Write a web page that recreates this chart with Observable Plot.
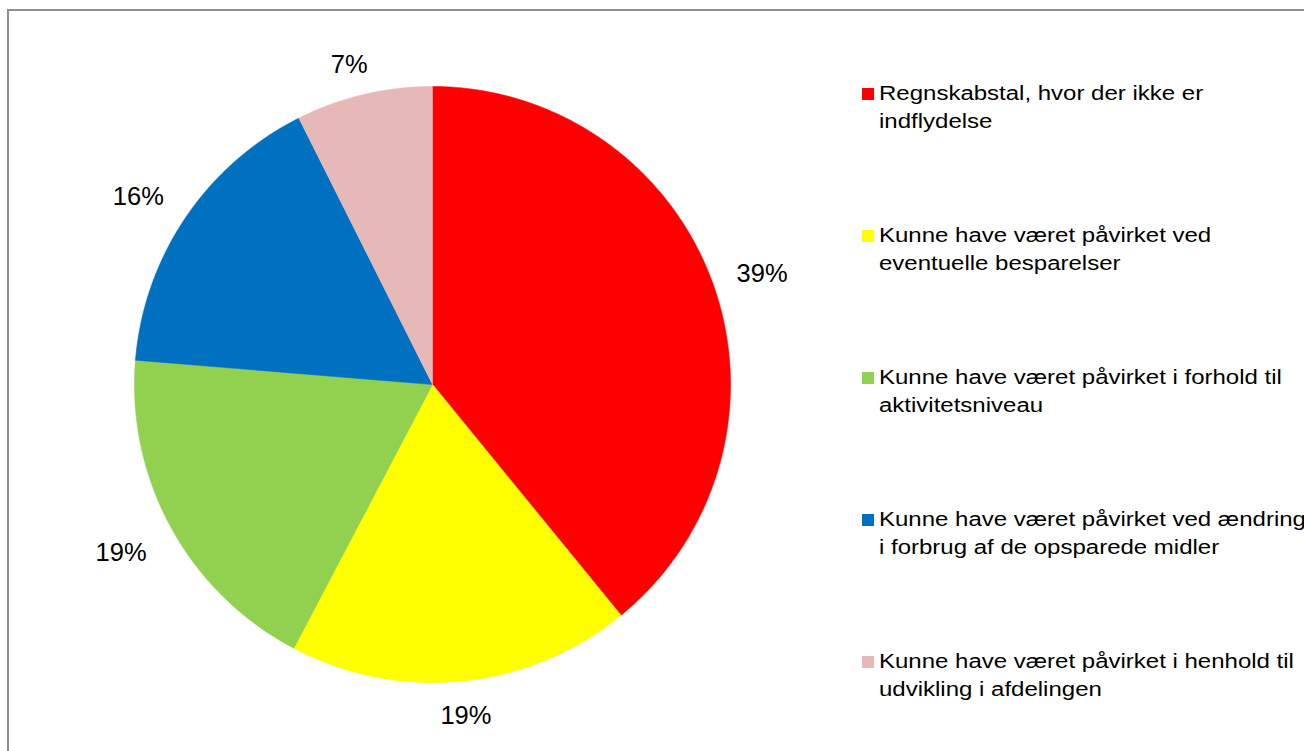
<!DOCTYPE html>
<html>
<head>
<meta charset="utf-8">
<script src="https://cdn.jsdelivr.net/npm/d3@7"></script>
<script src="https://cdn.jsdelivr.net/npm/@observablehq/plot@0.6"></script>
<style>
  html, body { margin: 0; padding: 0; background: #fff; overflow: hidden; width: 1304px; height: 751px; }
  body { position: relative; font-family: "Liberation Sans", Arial, sans-serif; }
  #frame { position: absolute; left: 7px; top: 9px; width: 1400px; height: 800px; border: 2px solid #8e8e8e; box-sizing: border-box; }
  #chart { position: absolute; left: 0; top: 0; width: 860px; height: 751px; }
  #legend { position: absolute; left: 0; top: 0; }
  .entry { position: absolute; left: 862px; white-space: nowrap; }
  .sw { position: absolute; left: 0; width: 12px; height: 12px; }
  .lbl { position: absolute; left: 17px; top: 0; font-size: 20px; line-height: 28px; color: #000;
         transform: scaleX(1.2); transform-origin: 0 0; }
</style>
</head>
<body>
<div id="frame"></div>
<div id="chart"></div>
<div id="legend"></div>
<script>
// ---- data ----
const categories = [
  "Regnskabstal, hvor der ikke er indflydelse",
  "Kunne have været påvirket ved eventuelle besparelser",
  "Kunne have været påvirket i forhold til aktivitetsniveau",
  "Kunne have været påvirket ved ændring i forbrug af de opsparede midler",
  "Kunne have været påvirket i henhold til udvikling i afdelingen"
];
const legendLines = [
  ["Regnskabstal, hvor der ikke er", "indflydelse"],
  ["Kunne have været påvirket ved", "eventuelle besparelser"],
  ["Kunne have været påvirket i forhold til", "aktivitetsniveau"],
  ["Kunne have været påvirket ved ændring", "i forbrug af de opsparede midler"],
  ["Kunne have været påvirket i henhold til", "udvikling i afdelingen"]
];
const values = [39.1, 18.6, 18.6, 16.3, 7.4];
const colors = ["#FF0000", "#FFFF00", "#92D050", "#0070C0", "#E6B9B8"];

// ---- pie geometry via d3.pie ----
const table = categories.map((c, i) => ({cat: c, value: values[i]}));
const total = d3.sum(values);
const arcs = d3.pie().sort(null).value(d => d.value).startAngle(0).endAngle(2 * Math.PI)(table);

const slicePts = [];
arcs.forEach(a => {
  const cat = a.data.cat;
  slicePts.push({cat, x: 0, y: 0});
  const n = Math.max(2, Math.ceil((a.endAngle - a.startAngle) / (Math.PI / 360)));
  for (let k = 0; k <= n; k++) {
    const t = a.startAngle + (a.endAngle - a.startAngle) * k / n;
    slicePts.push({cat, x: Math.sin(t), y: Math.cos(t)});
  }
  slicePts.push({cat, x: 0, y: 0});
});

const R = 298; // pixels per data unit (pie radius)
const labelPts = arcs.map(a => {
  const m = (a.startAngle + a.endAngle) / 2;
  const s = Math.sin(m), c = Math.cos(m);
  const k = 1.111 + 0.067 * Math.abs(s);
  return {
    x: k * s - (s < 0 ? 6 / R : 0),
    y: k * c - (c > 0 ? 7 / R : 0),
    text: Math.round(a.data.value / total * 100) + "%"
  };
});

const W = 860, H = 751;
const plot = Plot.plot({
  width: W,
  height: H,
  marginLeft: 134,
  marginRight: W - 134 - 2 * R,
  marginTop: 86,
  marginBottom: H - 86 - 2 * R,
  x: {domain: [-1, 1], axis: null},
  y: {domain: [-1, 1], axis: null},
  color: {domain: categories, range: colors},
  style: {background: "transparent", overflow: "visible", fontFamily: "'Liberation Sans', Arial, sans-serif"},
  marks: [
    Plot.line(slicePts, {x: "x", y: "y", z: "cat", fill: "cat", stroke: "cat", strokeWidth: 0.6, curve: "linear"}),
    Plot.text(labelPts, {x: "x", y: "y", text: "text", fontSize: 25.5, fill: "#000"})
  ]
});
document.getElementById("chart").appendChild(plot);

// ---- legend ----
const legend = document.getElementById("legend");
legendLines.forEach((lines, i) => {
  const e = document.createElement("div");
  e.className = "entry";
  e.style.top = (79 + i * 142) + "px";
  const sw = document.createElement("div");
  sw.className = "sw";
  sw.style.background = colors[i];
  sw.style.top = "9px";
  const l = document.createElement("div");
  l.className = "lbl";
  l.innerHTML = lines.join("<br>");
  e.appendChild(sw);
  e.appendChild(l);
  legend.appendChild(e);
});
</script>
</body>
</html>
